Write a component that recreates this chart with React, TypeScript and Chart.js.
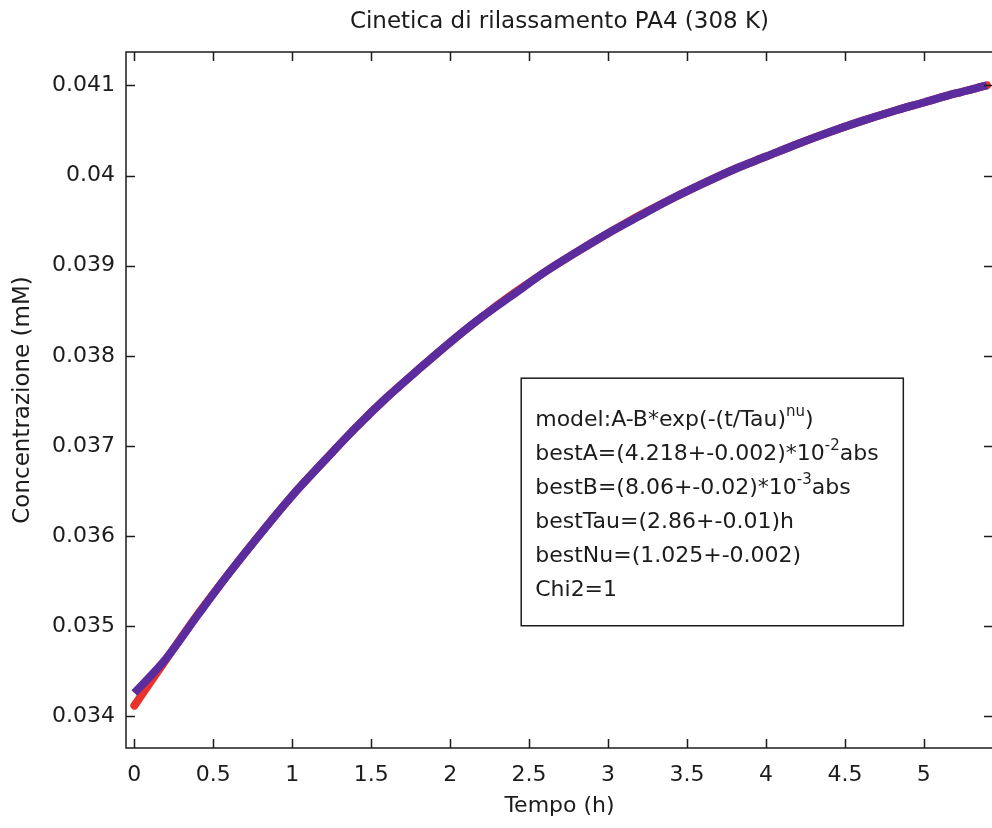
import React, { useEffect, useRef } from 'react';
import { Chart, registerables } from 'chart.js';

Chart.register(...registerables);

const TITLE = 'Cinetica di rilassamento PA4 (308 K)';
const X_LABEL = 'Tempo (h)';
const Y_LABEL = 'Concentrazione (mM)';

// time (h) of the readings
const timeH = [0, 0.2, 0.4, 0.6, 0.8, 1.0, 1.2, 1.4, 1.6, 1.8, 2.0, 2.2, 2.4, 2.6, 2.8, 3.0, 3.2, 3.4, 3.6, 3.8, 4.0, 4.2, 4.4, 4.6, 4.8, 5.0, 5.2, 5.4];
// measured concentration (mM), purple band
const concMeasured = [0.03426, 0.03464, 0.03512, 0.03559, 0.03603, 0.03645, 0.03683, 0.0372, 0.03754, 0.03785, 0.03815, 0.03843, 0.03868, 0.03893, 0.03915, 0.03936, 0.03955, 0.03974, 0.03991, 0.04007, 0.04021, 0.04035, 0.04048, 0.0406, 0.04071, 0.04081, 0.04091, 0.041];
// fitted model curve (mM), red line
const concFit = [0.03412, 0.03463, 0.03513, 0.03559, 0.03603, 0.03645, 0.03683, 0.0372, 0.03754, 0.03785, 0.03815, 0.03843, 0.03869, 0.03893, 0.03915, 0.03936, 0.03956, 0.03974, 0.03991, 0.04007, 0.04021, 0.04035, 0.04048, 0.0406, 0.04071, 0.04081, 0.04091, 0.041];

const xTicks = [0, 0.5, 1, 1.5, 2, 2.5, 3, 3.5, 4, 4.5, 5];
const xTickLabels = ['0', '0.5', '1', '1.5', '2', '2.5', '3', '3.5', '4', '4.5', '5'];
const yTicks = [0.034, 0.035, 0.036, 0.037, 0.038, 0.039, 0.04, 0.041];
const yTickLabels = ['0.034', '0.035', '0.036', '0.037', '0.038', '0.039', '0.04', '0.041'];

const X_MIN = -0.053;
const X_MAX = 5.438;
const Y_MIN = 0.03365;
const Y_MAX = 0.04137;

type Seg = { text: string; sup?: boolean };
const fitInfoLines: Seg[][] = [
  [{ text: 'model:A-B*exp(-(t/Tau)' }, { text: 'nu', sup: true }, { text: ')' }],
  [{ text: 'bestA=(4.218+-0.002)*10' }, { text: '-2', sup: true }, { text: 'abs' }],
  [{ text: 'bestB=(8.06+-0.02)*10' }, { text: '-3', sup: true }, { text: 'abs' }],
  [{ text: 'bestTau=(2.86+-0.01)h' }],
  [{ text: 'bestNu=(1.025+-0.002)' }],
  [{ text: 'Chi2=1' }],
];

const FONT = '"DejaVu Sans", "Liberation Sans", Arial, sans-serif';
const INK = '#1c1c1c';

const framePlugin = {
  id: 'matlabFrame',
  afterDatasetsDraw(chart: any) {
    const { ctx, chartArea, scales } = chart;
    const { left, right, top, bottom } = chartArea;
    const xs = scales.x;
    const ys = scales.y;
    ctx.save();
    ctx.strokeStyle = INK;
    ctx.lineWidth = 1.5;
    ctx.strokeRect(left, top, right - left, bottom - top);
    const L = 9;
    ctx.beginPath();
    for (const v of xTicks) {
      const px = Math.round(xs.getPixelForValue(v)) + 0.5;
      ctx.moveTo(px, bottom);
      ctx.lineTo(px, bottom - L);
      ctx.moveTo(px, top);
      ctx.lineTo(px, top + L);
    }
    for (const v of yTicks) {
      const py = Math.round(ys.getPixelForValue(v)) + 0.5;
      ctx.moveTo(left, py);
      ctx.lineTo(left + L, py);
      ctx.moveTo(right, py);
      ctx.lineTo(right - L, py);
    }
    ctx.stroke();

    // info box anchored in data coordinates
    const bx0 = xs.getPixelForValue(2.45);
    const bx1 = xs.getPixelForValue(4.87);
    const by0 = ys.getPixelForValue(0.037752);
    const by1 = ys.getPixelForValue(0.035006);
    ctx.fillStyle = '#ffffff';
    ctx.fillRect(bx0, by0, bx1 - bx0, by1 - by0);
    ctx.strokeRect(bx0, by0, bx1 - bx0, by1 - by0);
    ctx.fillStyle = INK;
    ctx.textBaseline = 'alphabetic';
    ctx.textAlign = 'left';
    fitInfoLines.forEach((line, i) => {
      let cx = bx0 + 14;
      const base = by0 + 48 + i * 34;
      for (const seg of line) {
        ctx.font = seg.sup ? `15px ${FONT}` : `22px ${FONT}`;
        ctx.fillText(seg.text, cx, seg.sup ? base - 10 : base);
        cx += ctx.measureText(seg.text).width;
      }
    });
    ctx.restore();
  },
};

export default function App() {
  const ref = useRef<HTMLCanvasElement | null>(null);
  useEffect(() => {
    if (!ref.current) return;
    const chart = new Chart(ref.current, {
      type: 'scatter',
      data: {
        datasets: [
          {
            label: 'dati',
            data: timeH.map((t, i) => ({ x: t, y: concMeasured[i] })),
            showLine: true,
            borderColor: '#5a2c9e',
            backgroundColor: '#5a2c9e',
            borderWidth: 8,
            pointRadius: 0,
            cubicInterpolationMode: 'monotone',
            borderJoinStyle: 'round',
          },
          {
            label: 'fit',
            data: timeH.map((t, i) => ({ x: t, y: concFit[i] })),
            showLine: true,
            borderColor: '#e8322a',
            backgroundColor: '#e8322a',
            borderWidth: 8,
            pointRadius: 0,
            cubicInterpolationMode: 'monotone',
            borderCapStyle: 'round',
            borderJoinStyle: 'round',
          },
        ],
      },
      options: {
        animation: false,
        responsive: false,
        devicePixelRatio: 1,
        layout: { padding: { left: 0, right: 1, top: 0, bottom: 0 } },
        plugins: {
          legend: { display: false },
          tooltip: { enabled: false },
          title: {
            display: true,
            text: TITLE,
            fullSize: false,
            color: INK,
            font: { family: FONT, size: 23, weight: 'normal' },
            padding: { top: 8, bottom: 16.4 },
          },
        },
        scales: {
          x: {
            type: 'linear',
            min: X_MIN,
            max: X_MAX,
            grid: { display: false, drawTicks: false },
            border: { display: false },
            afterBuildTicks: (s: any) => {
              s.ticks = xTicks.map((v) => ({ value: v }));
            },
            afterFit: (s: any) => {
              s.height = 80;
            },
            ticks: {
              autoSkip: false,
              maxRotation: 0,
              padding: 14,
              color: INK,
              font: { family: FONT, size: 22 },
              callback: (_v: any, i: number) => xTickLabels[i],
            },
            title: {
              display: true,
              text: X_LABEL,
              color: INK,
              font: { family: FONT, size: 22 },
              padding: { top: 0, bottom: 8.5 },
            },
          },
          y: {
            type: 'linear',
            min: Y_MIN,
            max: Y_MAX,
            grid: { display: false, drawTicks: false },
            border: { display: false },
            afterBuildTicks: (s: any) => {
              s.ticks = yTicks.map((v) => ({ value: v }));
            },
            afterFit: (s: any) => {
              s.width = 126;
            },
            ticks: {
              autoSkip: false,
              padding: 11,
              color: INK,
              font: { family: FONT, size: 22 },
              callback: (_v: any, i: number) => yTickLabels[i],
            },
            title: {
              display: true,
              text: Y_LABEL,
              color: INK,
              font: { family: FONT, size: 23 },
              padding: { top: 9, bottom: 0 },
            },
          },
        },
      },
      plugins: [framePlugin],
    } as any);
    return () => chart.destroy();
  }, []);

  return (
    <div style={{ position: 'absolute', left: 0, top: 0, width: 992, height: 828, overflow: 'hidden', background: '#fff' }}>
      <canvas ref={ref} width={994} height={828} style={{ width: 994, height: 828, display: 'block' }} />
    </div>
  );
}
